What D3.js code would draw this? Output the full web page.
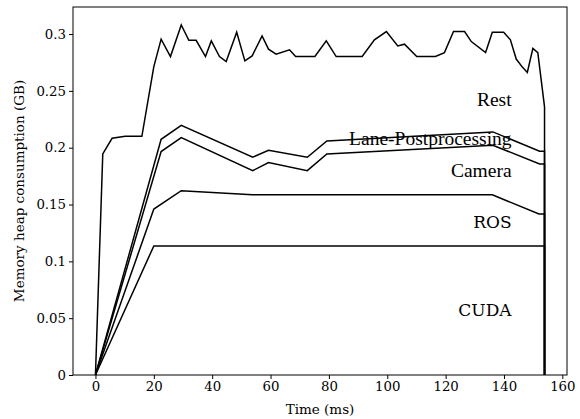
<!DOCTYPE html>
<html>
<head>
<meta charset="utf-8">
<script src="https://cdn.jsdelivr.net/npm/d3@7"></script>
<style>
  body { margin: 0; background: #fff; }
  .tick text { font-family: "DejaVu Serif", serif; font-size: 13.3px; fill: #000; }
</style>
</head>
<body>
<script>
// cumulative boundaries (stacked)
var restTime = [0, 2.5, 5.7, 10.2, 15.9, 20, 22.5, 25.7, 29.4, 32, 34.5, 37.7, 39.7, 42.5, 44.8, 48.4, 51.2, 53.7, 57.1, 59.3,
  61.9, 66.5, 68.6, 75.2, 79.1, 82.5, 91.4, 95.6, 99.7, 103.6, 105.9, 110.1, 116.5, 119.6, 122.7, 126.5, 128.8, 133.7, 136, 139.9,
  142.2, 144.2, 146.3, 148, 149.9, 151.6, 153.9, 153.9];
var restMem = [0, 0.1945, 0.2083, 0.21, 0.21, 0.2714, 0.2955, 0.2802, 0.308, 0.2945, 0.2945, 0.2802, 0.294, 0.2802, 0.2758, 0.3016, 0.2764, 0.2808, 0.2984, 0.2867,
  0.2823, 0.2861, 0.2802, 0.2802, 0.294, 0.2802, 0.2802, 0.2949, 0.3022, 0.2896, 0.2911, 0.2802, 0.2802, 0.2837, 0.3022, 0.3022, 0.2934, 0.2837, 0.3016, 0.3016,
  0.2949, 0.278, 0.2709, 0.2662, 0.2874, 0.2837, 0.236, 0];

var laneTime = [0, 22.5, 29.4, 53.9, 59.3, 72.6, 79.3, 136.2, 152.2, 153.9, 153.9];
var laneMem = [0, 0.2074, 0.2197, 0.1916, 0.1978, 0.1916, 0.206, 0.2139, 0.1969, 0.1969, 0];

var cameraTime = [0, 22.5, 29.4, 53.9, 59.3, 72.6, 79.3, 136.2, 152.2, 153.9, 153.9];
var cameraMem = [0, 0.1966, 0.2089, 0.1798, 0.1869, 0.1798, 0.1945, 0.2022, 0.1857, 0.1857, 0];

var rosTime = [0, 20, 29.4, 53.8, 136, 152, 153.9, 153.9];
var rosMem = [0, 0.146, 0.1622, 0.1585, 0.1585, 0.1417, 0.1417, 0];

var cudaTime = [0, 20, 153.9, 153.9];
var cudaMem = [0, 0.1136, 0.1136, 0];

var seriesNames = ["Rest", "Lane-Postprocessing", "Camera", "ROS", "CUDA"];
var xTicks = [0, 20, 40, 60, 80, 100, 120, 140, 160];
var yTicks = [0, 0.05, 0.1, 0.15, 0.2, 0.25, 0.3];
var yTickLabels = ["0", "0.05", "0.1", "0.15", "0.2", "0.25", "0.3"];

// set the dimensions and margins of the graph
var margin = {top: 7, right: 13, bottom: 44, left: 73},
  width = 580 - margin.left - margin.right,
  height = 419 - margin.top - margin.bottom;

var x = d3.scaleLinear().domain([-7.7, 161.6]).range([0, width]);
var y = d3.scaleLinear().domain([0, 0.3238]).range([height, 0]);

var svg = d3.select("body").append("svg")
  .attr("width", 580)
  .attr("height", 419)
  .append("g")
  .attr("transform", "translate(" + margin.left + "," + margin.top + ")");

var line = d3.line()
  .x(function(d) { return x(d[0]); })
  .y(function(d) { return y(d[1]); });

var series = [
  {t: restTime, v: restMem, lx: 142.6, ly: 0.2367, font: "Liberation Serif", size: 19.5},
  {t: laneTime, v: laneMem, lx: 142.6, ly: 0.2022, font: "Liberation Serif", size: 19.5},
  {t: cameraTime, v: cameraMem, lx: 142.6, ly: 0.1743, font: "Liberation Serif", size: 19.5},
  {t: rosTime, v: rosMem, lx: 142.6, ly: 0.1291, font: "DejaVu Serif", size: 17},
  {t: cudaTime, v: cudaMem, lx: 142.6, ly: 0.0519, font: "DejaVu Serif", size: 17}
];

series.forEach(function(s) {
  var pts = s.t.map(function(t, i) { return [t, s.v[i]]; });
  svg.append("path")
    .datum(pts)
    .attr("fill", "none")
    .attr("stroke", "#000")
    .attr("stroke-width", 1.5)
    .attr("d", line);
});

series.forEach(function(s, i) {
  svg.append("text")
    .attr("x", x(s.lx))
    .attr("y", y(s.ly))
    .attr("text-anchor", "end")
    .style("font-family", s.font)
    .style("font-size", s.size + "px")
    .text(seriesNames[i]);
});

// frame
svg.append("rect")
  .attr("width", width)
  .attr("height", height)
  .attr("fill", "none")
  .attr("stroke", "#000")
  .attr("stroke-width", 1);

// Add the X Axis
var gx = svg.append("g")
  .attr("transform", "translate(0," + height + ")")
  .call(d3.axisBottom(x).tickValues(xTicks).tickSize(4).tickPadding(3).tickFormat(d3.format("d")));

// Add the Y Axis
var gy = svg.append("g")
  .call(d3.axisLeft(y).tickValues(yTicks).tickSize(4).tickPadding(3)
    .tickFormat(function(d, i) { return yTickLabels[i]; }));

gx.select(".domain").remove();
gy.select(".domain").remove();
svg.selectAll(".tick line").attr("stroke", "#000");

svg.append("text")
  .attr("x", width / 2)
  .attr("y", height + 39)
  .attr("text-anchor", "middle")
  .style("font-family", "DejaVu Serif")
  .style("font-size", "13.5px")
  .text("Time (ms)");

svg.append("text")
  .attr("transform", "translate(" + (-49) + "," + (height / 2) + ") rotate(-90)")
  .attr("text-anchor", "middle")
  .style("font-family", "DejaVu Serif")
  .style("font-size", "13.5px")
  .text("Memory heap consumption (GB)");
</script>
</body>
</html>
